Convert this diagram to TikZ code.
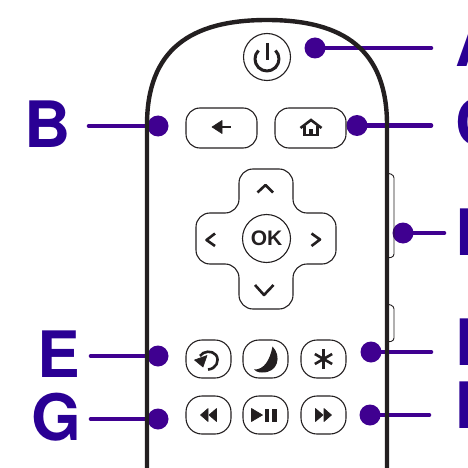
\documentclass[tikz,border=0pt]{standalone}
\usepackage{fontspec}
\setsansfont{TeX Gyre Heros}
\setmainfont{Liberation Sans}
\usepackage{tikz}
\definecolor{inkblack}{HTML}{231F20}
\definecolor{dotpurple}{HTML}{3F0090}
\definecolor{letterblue}{HTML}{2A0094}
\tikzset{
    calloutdot/.style={circle,fill=dotpurple,inner sep=0pt,minimum size=21pt},
    leader/.style={draw=dotpurple,line width=4.6pt,line cap=round},
    letter/.style={anchor=base west,inner sep=0pt,text=letterblue,font=\fontsize{64}{64}\sffamily\bfseries},
    roundkey/.style={draw=inkblack,line width=1.1pt,circle,inner sep=0pt,minimum size=#1},
    widekey/.style={draw=inkblack,line width=1.1pt,rounded corners=14pt,inner sep=0pt,minimum width=71pt,minimum height=40pt},
    smallkey/.style={draw=inkblack,line width=1.1pt,rounded corners=16pt,inner sep=0pt,minimum width=45pt,minimum height=38pt},
    glyph/.style={draw=inkblack,line width=2.6pt,line join=round},
    solidglyph/.style={fill=inkblack,draw=inkblack,line width=.6pt,line join=round}
}
\begin{document}
\begin{tikzpicture}[x=1pt,y=-1pt]
    \useasboundingbox (0,0) rectangle (467,468);
    \clip (0,0) rectangle (467,468);
    %leaders
    \foreach \name/\x/\y/\endx in {A/315/48/431, B/158/126/89, C/357/125.5/431, D/403/233/444, E/158/356/91, F/371/352/431, G/158/419/91, H/370/415/429} {
        \node[calloutdot] (dot\name) at (\x,\y) {};
        \coordinate (tail\name) at (\endx,\y);
        \draw[leader] (dot\name.center) -- (tail\name);}
    %letters
    \foreach \name/\x/\y in {A/455/67, B/24/147, C/455/145, D/455/255, E/37/377, F/455/365, G/31/440, H/455/428} {
        \node[letter] (label\name) at (\x,\y) {\name};}
    %body
    \draw[draw=inkblack,line width=4.4pt] (147,470) -- (147,125) .. controls (147,50) and (190,20) .. (267,20)
        .. controls (344,20) and (387,50) .. (387,125) -- (387,470);
    \draw[draw=inkblack,line width=.9pt,rounded corners=3pt] (387,173) -- (394,175) -- (394,257) -- (387,258);
    \draw[draw=inkblack,line width=.9pt,rounded corners=3pt] (387,304) -- (394,306) -- (394,341) -- (387,342);
    %power
    \node[roundkey=47pt] (power) at (267,57) {};
    \draw[glyph,line width=3pt] (267,43) -- (267,60);
    \draw[glyph,line width=3pt] (258.5,50.5) arc[start angle=135,end angle=405,radius=12pt];
    %back and home
    \node[widekey] (back) at (221.5,128) {};
    \node[widekey] (home) at (310.5,128) {};
    \fill[solidglyph] (212,127) -- (222,120.5) -- (222,133.5) -- cycle;
    \draw[draw=inkblack,line width=2pt] (220,127) -- (231,127);
    \draw[draw=inkblack,line width=2.6pt,line join=miter] (300.5,128) -- (311,120) -- (321.5,128);
    \draw[draw=inkblack,line width=2.6pt] (304.5,126) -- (304.5,135) -- (317.5,135) -- (317.5,126);
    \fill[inkblack] (309,129) rectangle (313,135);
    %dpad
    \draw[draw=inkblack,line width=1.1pt,rounded corners=14pt] (239,169) -- (293,169) -- (293,213) -- (336,213) -- (336,264)
        -- (293,264) -- (293,309) -- (239,309) -- (239,264) -- (196,264) -- (196,213) -- (239,213) -- cycle;
    \node[roundkey=48pt,font=\fontsize{21}{21}\selectfont\bfseries,text=inkblack] (ok) at (266.5,238.5) {OK};
    \draw[glyph] (257.5,192.5) -- (265.5,185) -- (273,192.5);
    \draw[glyph] (255,285) -- (264,295) -- (273.5,285);
    \draw[glyph] (215,233.5) -- (206.5,240) -- (215,246);
    \draw[glyph] (311.5,233.5) -- (320,239.5) -- (311.5,246);
    %lower keys
    \foreach \name/\x/\y in {replay/208.5/359, sleep/265.5/359, star/323.5/359, rewind/208.5/415, play/265.5/415, forward/323.5/415} {
        \node[smallkey] (\name) at (\x,\y) {};}
    %replay
    \draw[glyph,line width=2.6pt] (200,356) .. controls (203,351) and (212,350) .. (216,355) .. controls (220,361) and (216,369) .. (208,369.5);
    \fill[solidglyph] (194.5,360) -- (207,355.5) -- (203,367) -- cycle;
    %moon
    \fill[inkblack] (272.5,346.5) .. controls (282,356) and (278,373) .. (262,372.5) .. controls (258,372.5) and (255,371) .. (254,369.5)
        .. controls (264,370) and (270,360) .. (272.5,346.5) -- cycle;
    %star
    \foreach \ang in {90,30,-30} {
        \draw[draw=inkblack,line width=2.6pt] (star.center) ++(\ang:10) -- ++(\ang+180:20);}
    %transport
    \foreach \shift in {0,8.5} {
        \fill[solidglyph] (200.5+\shift,415) -- (208+\shift,408.5) -- (208+\shift,421.5) -- cycle;}
    \fill[solidglyph] (251.5,408.5) -- (262.5,415) -- (251.5,421.5) -- cycle;
    \fill[inkblack] (264.5,408.5) rectangle (269,421.5);
    \fill[inkblack] (272,408.5) rectangle (277,421.5);
    \foreach \shift in {0,8.5} {
        \fill[solidglyph] (315.5+\shift,408.5) -- (323+\shift,415) -- (315.5+\shift,421.5) -- cycle;}
\end{tikzpicture}
\end{document}
